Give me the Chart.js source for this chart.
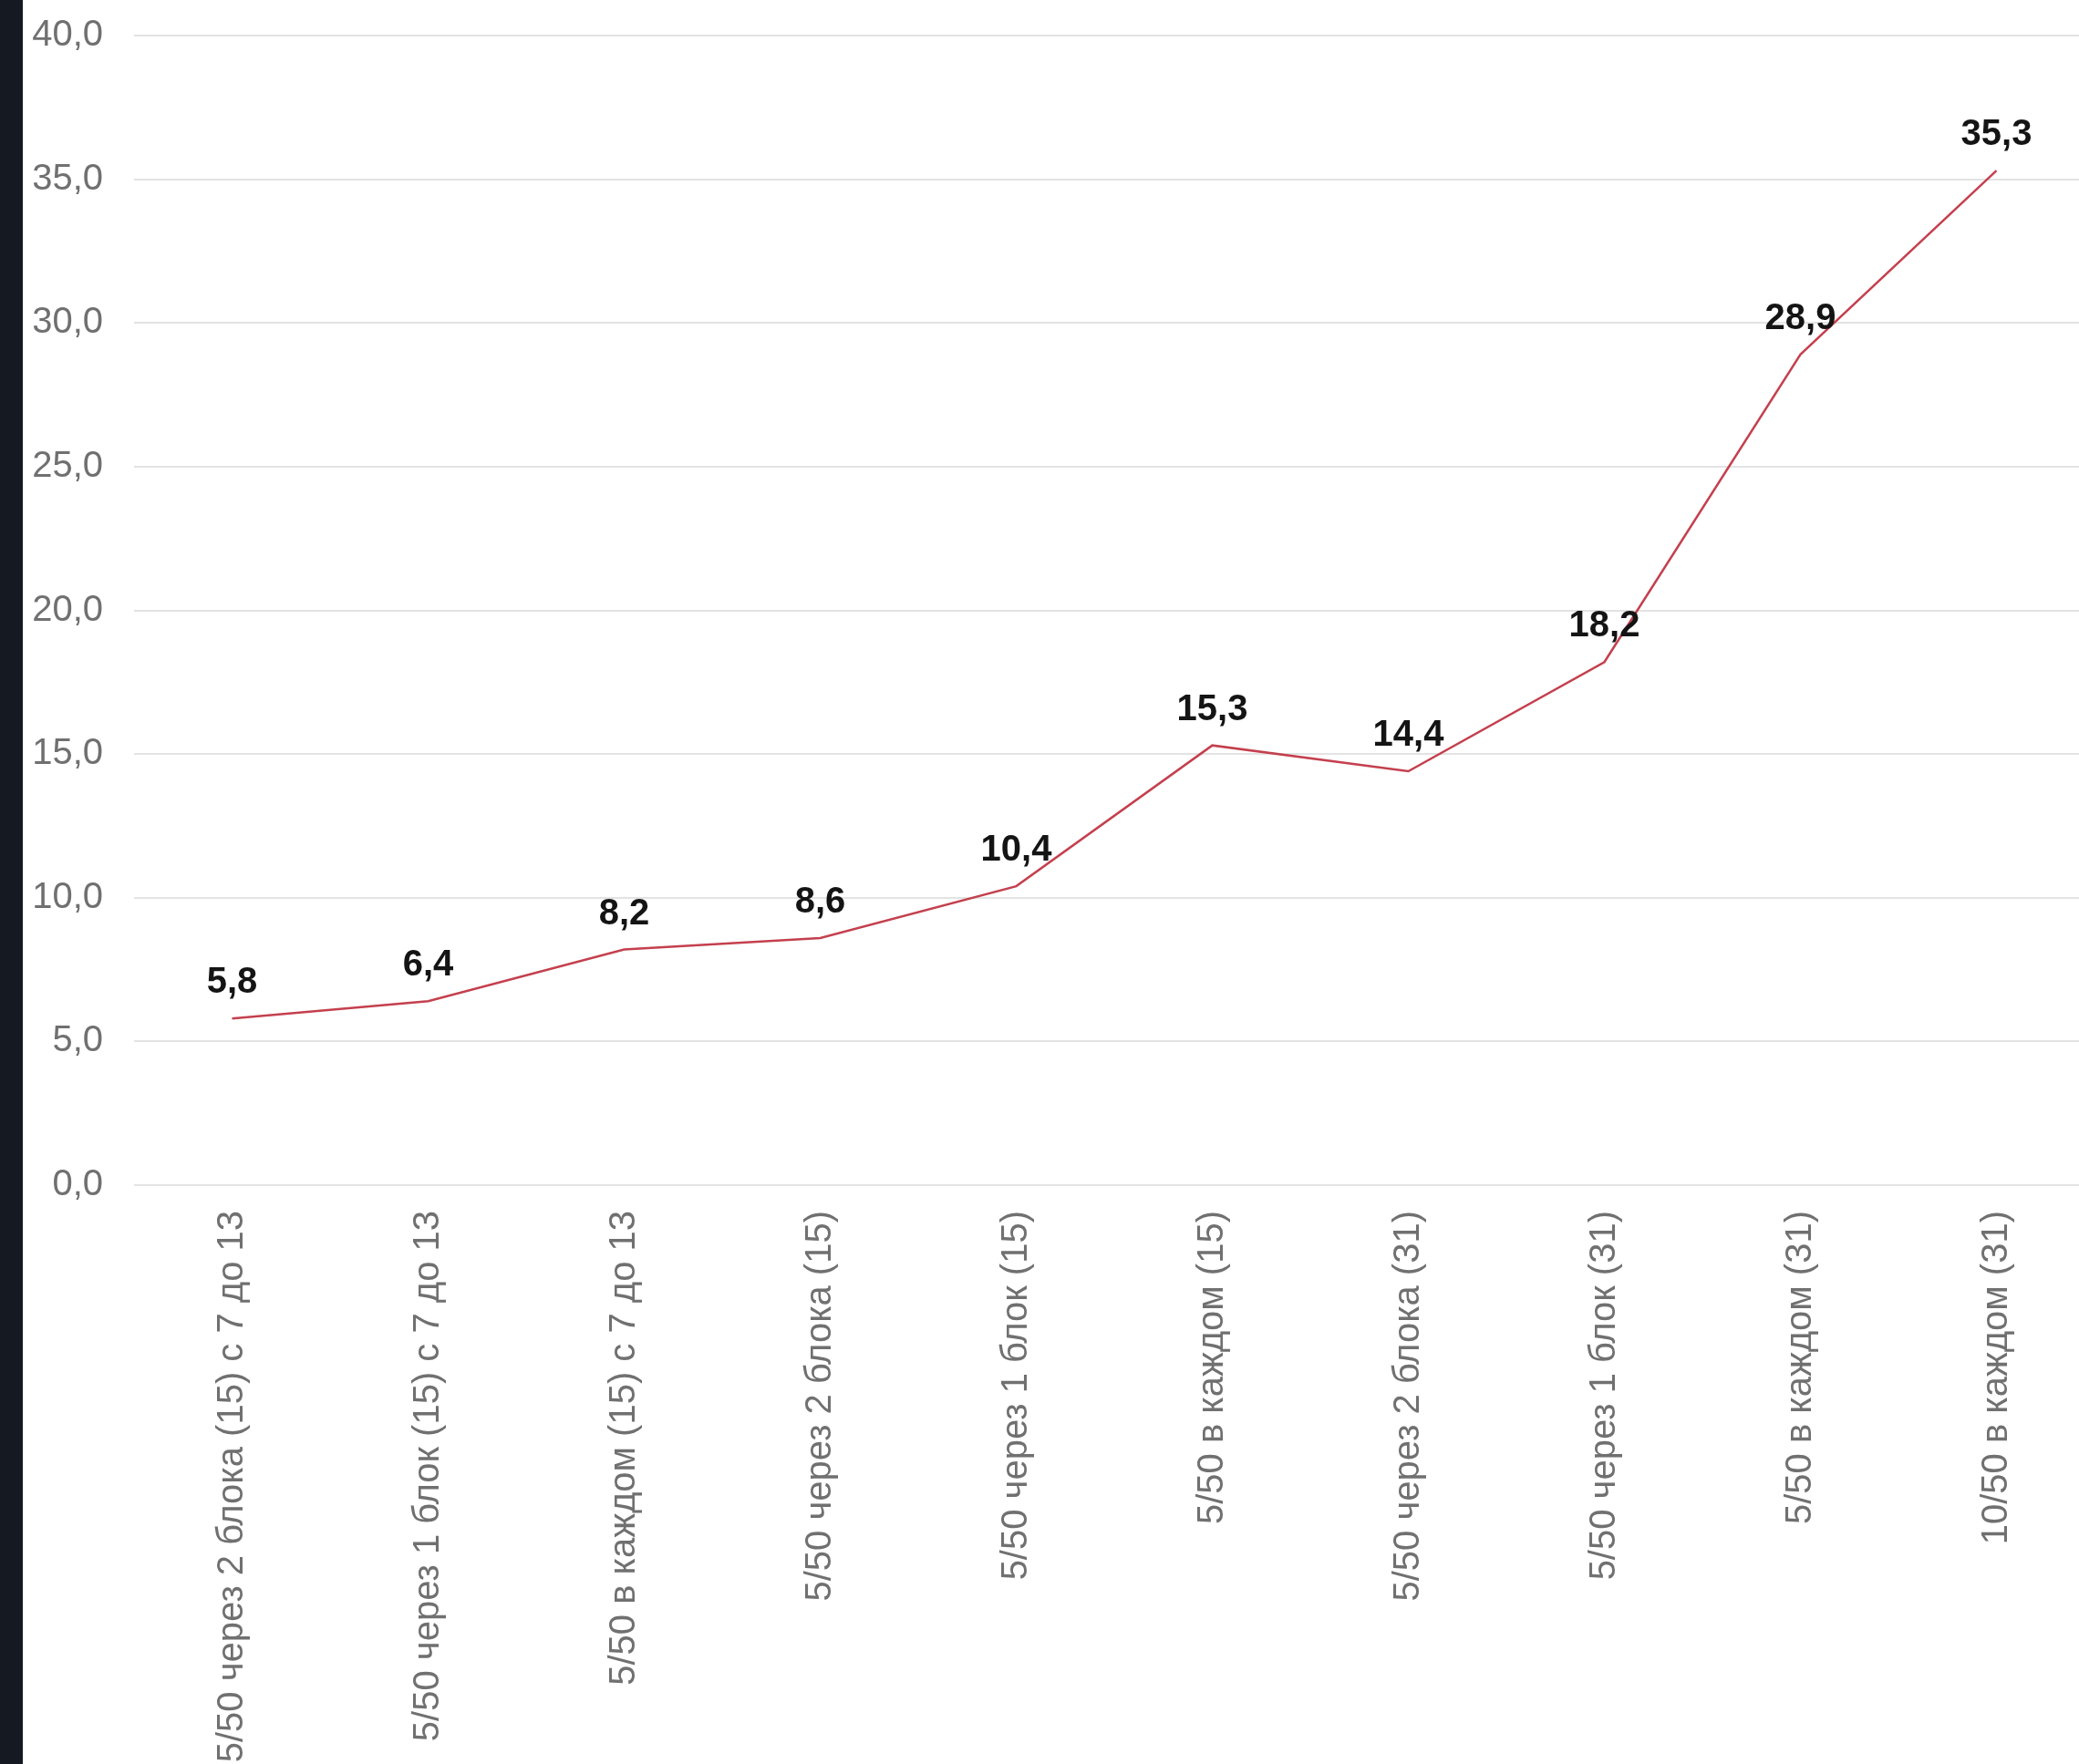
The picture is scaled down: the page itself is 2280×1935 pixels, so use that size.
<!DOCTYPE html>
<html lang="ru">
<head>
<meta charset="utf-8">
<title>Сравнение вариантов</title>
<script src="https://cdn.jsdelivr.net/npm/chart.js@4/dist/chart.umd.min.js"></script>
<style>
  html, body { margin: 0; padding: 0; background: #ffffff; overflow: hidden; width: 2280px; height: 1935px; }
  #strip { position: absolute; left: 0; top: 0; width: 25px; height: 1935px; background: #141922; z-index: 2; }
  #wrap { position: absolute; left: 0; top: 0; width: 2297px; height: 1935px; }
</style>
</head>
<body>
<div id="strip"></div>
<div id="wrap"><canvas id="chart"></canvas></div>
<script>
// Categories along the x axis
const categories = [
  "5/50 через 2 блока (15) с 7 до 13",
  "5/50 через 1 блок (15) с 7 до 13",
  "5/50 в каждом (15) с 7 до 13",
  "5/50 через 2 блока (15)",
  "5/50 через 1 блок (15)",
  "5/50 в каждом (15)",
  "5/50 через 2 блока (31)",
  "5/50 через 1 блок (31)",
  "5/50 в каждом (31)",
  "10/50 в каждом (31)"
];

// Series values
const values = [5.8, 6.4, 8.2, 8.6, 10.4, 15.3, 14.4, 18.2, 28.9, 35.3];

// Value axis range and step
const yMin = 0;
const yMax = 40;
const yStep = 5;

const FONT = '"Liberation Sans", Arial, Helvetica, sans-serif';
const fmt = v => Number(v).toFixed(1).replace('.', ',');

// Writes each point's value above it
const valueLabels = {
  id: 'valueLabels',
  afterDatasetsDraw(chart) {
    const ctx = chart.ctx;
    const meta = chart.getDatasetMeta(0);
    const data = chart.data.datasets[0].data;
    ctx.save();
    ctx.font = 'bold 40px ' + FONT;
    ctx.fillStyle = '#141414';
    ctx.textAlign = 'center';
    ctx.textBaseline = 'middle';
    meta.data.forEach((pt, i) => {
      ctx.fillText(fmt(data[i]), pt.x, pt.y - 39);
    });
    ctx.restore();
  }
};

new Chart(document.getElementById('chart'), {
  type: 'line',
  data: {
    labels: categories,
    datasets: [{
      data: values,
      borderColor: '#c4404e',
      borderWidth: 2.5,
      pointRadius: 0,
      pointHoverRadius: 0,
      tension: 0,
      fill: false
    }]
  },
  options: {
    responsive: true,
    maintainAspectRatio: false,
    animation: false,
    layout: { padding: { top: 39, left: 0, right: 0, bottom: 0 } },
    plugins: {
      legend: { display: false },
      tooltip: { enabled: false },
      title: { display: false }
    },
    scales: {
      x: {
        offset: true,
        grid: { display: false, drawTicks: false },
        border: { display: false },
        ticks: {
          autoSkip: false,
          minRotation: 90,
          maxRotation: 90,
          padding: 28,
          color: '#707070',
          font: { family: FONT, size: 40 }
        },
        afterFit(scale) {
          scale.height = 635;
          scale.paddingLeft = 0;
          scale.paddingRight = 0;
        }
      },
      y: {
        min: yMin,
        max: yMax,
        grid: { color: '#e3e3e3', lineWidth: 2, drawTicks: false },
        border: { display: false },
        ticks: {
          stepSize: yStep,
          padding: 34,
          color: '#707070',
          font: { family: FONT, size: 40 },
          callback: v => fmt(v)
        },
        afterFit(scale) {
          scale.width = 147;
          scale.paddingTop = 0;
          scale.paddingBottom = 0;
        }
      }
    }
  },
  plugins: [valueLabels]
});
</script>
</body>
</html>
